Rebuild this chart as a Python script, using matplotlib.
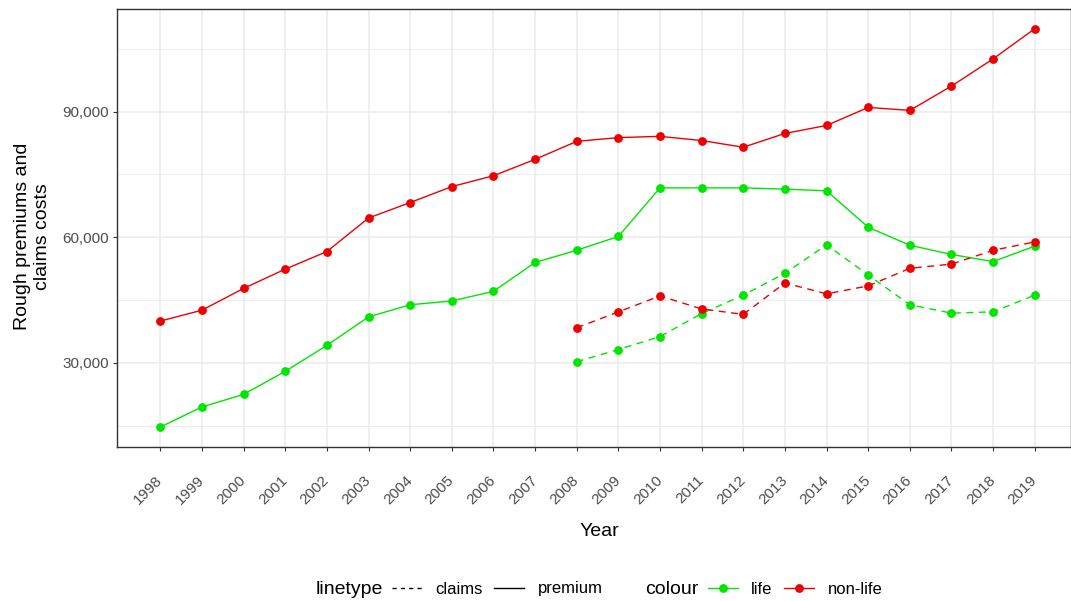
"""Rough premiums and claims costs, life vs non-life, 1998-2019"""

import matplotlib

matplotlib.use("Agg")
import matplotlib.pyplot as plt
import matplotlib.transforms as mtransforms
from matplotlib.lines import Line2D
from matplotlib.ticker import FuncFormatter

plt.rcParams["font.family"] = ["Liberation Sans", "DejaVu Sans"]

years = list(range(1998, 2020))
claim_years = list(range(2008, 2020))

nonlife_premium = [40000, 42600, 47800, 52400, 56600, 64600, 68300, 72100, 74700,
                   78600, 82900, 83800, 84100, 83100, 81500, 84800, 86700, 91000,
                   90300, 96100, 102600, 109800]
life_premium = [14700, 19500, 22500, 28000, 34200, 41000, 43900, 44800, 47100,
                54000, 56900, 60200, 71800, 71800, 71800, 71500, 71100, 62400,
                58100, 55900, 54200, 57900]
nonlife_claims = [38400, 42200, 46000, 42900, 41600, 49100, 46500, 48400, 52600,
                  53600, 56900, 58900]
life_claims = [30300, 33200, 36300, 41800, 46200, 51400, 58200, 51000, 43900,
               41900, 42200, 46200]

y_major = [30000, 60000, 90000]
y_minor = [15000, 45000, 75000, 105000]

GREEN = "#00E600"
RED = "#EE0000"
DARK = "#333333"
GRID = "#EBEBEB"

fig = plt.figure(figsize=(10.71, 6.01), dpi=100)
ax = fig.add_axes([117 / 1071, 1 - 447 / 601, 954 / 1071, 438 / 601])

line_kw = dict(lw=1.0, marker="o", markersize=5.3)
ax.plot(years, life_premium, color=GREEN, **line_kw)
ax.plot(years, nonlife_premium, color=RED, **line_kw)
ax.plot(claim_years, life_claims, color=GREEN, dashes=(5, 4), **line_kw)
ax.plot(claim_years, nonlife_claims, color=RED, dashes=(5, 4), **line_kw)

ax.set_xlim(1998 - 1.04, 2019 + 0.87)
ax.set_ylim(9940, 114500)

ax.set_xticks(years)
ax.set_xticklabels([str(y) for y in years], rotation=45, ha="right", va="top")
ax.set_yticks(y_major)
ax.set_yticks(y_minor, minor=True)
ax.yaxis.set_major_formatter(FuncFormatter(lambda v, _: f"{int(v):,}"))

ax.set_axisbelow(True)
ax.grid(True, which="major", color=GRID, lw=1.1)
ax.grid(True, which="minor", axis="y", color=GRID, lw=0.6)
ax.tick_params(axis="both", which="major", length=2.75, width=0.8, color=DARK,
               labelsize=11, labelcolor="#4D4D4D")
ax.tick_params(axis="y", which="minor", length=0)
ax.tick_params(axis="y", pad=3)
ax.tick_params(axis="x", pad=16)
for lbl in ax.get_xticklabels():
    lbl.set_transform(lbl.get_transform()
                      + mtransforms.ScaledTranslation(5 / 100, 0, fig.dpi_scale_trans))
for sp in ax.spines.values():
    sp.set_color(DARK)
    sp.set_linewidth(1.0)

ax.set_ylabel("Rough premiums and\nclaims costs", fontsize=14, ha="center", va="center")
ax.yaxis.set_label_coords(-0.0885, 0.48)
ax.set_xlabel("Year", fontsize=14, va="center")
ax.xaxis.set_label_coords(0.506, -0.193)

# legend along the bottom, ggplot style (title to the left of the keys)
leg_y = 1 - 589 / 601
fig.text(316 / 1071, leg_y, "linetype", fontsize=14, va="center", ha="left")
fig.text(645 / 1071, leg_y, "colour", fontsize=14, va="center", ha="left")

lt_handles = [Line2D([], [], color="black", lw=1.0, dashes=(3, 3)),
              Line2D([], [], color="black", lw=1.0)]
fig.legend(lt_handles, ["claims", "premium"], loc="center left",
           bbox_to_anchor=(392 / 1071, leg_y), ncol=2, frameon=False,
           fontsize=12, handlelength=1.8, handletextpad=0.8,
           columnspacing=0.7, borderpad=0, borderaxespad=0)
col_handles = [Line2D([], [], color=GREEN, lw=1.0, marker="o", markersize=5.3),
               Line2D([], [], color=RED, lw=1.0, marker="o", markersize=5.3)]
fig.legend(col_handles, ["life", "non-life"], loc="center left",
           bbox_to_anchor=(708 / 1071, leg_y), ncol=2, frameon=False,
           fontsize=12, handlelength=1.8, handletextpad=0.8,
           columnspacing=0.7, borderpad=0, borderaxespad=0, numpoints=1)

fig.savefig("out.png", dpi=100)
